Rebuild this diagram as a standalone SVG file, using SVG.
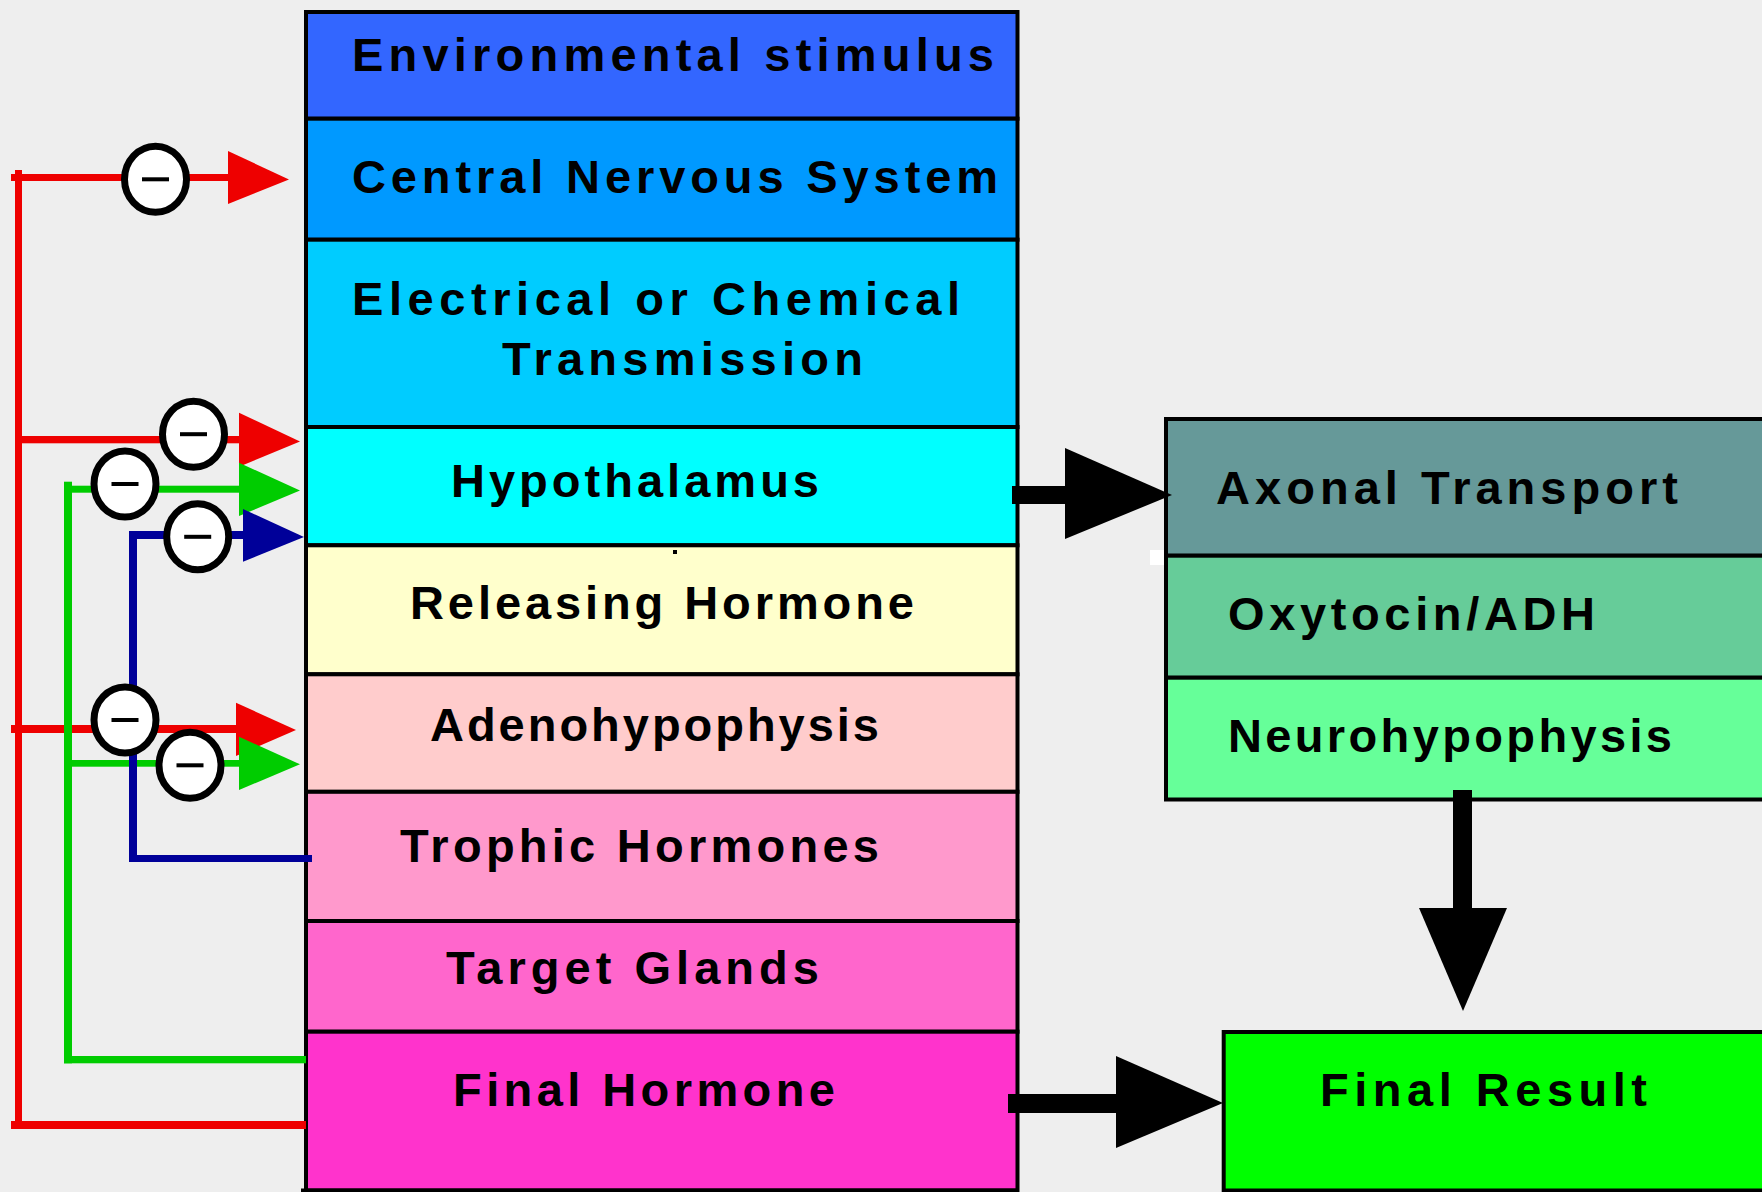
<svg xmlns="http://www.w3.org/2000/svg" width="1762" height="1192" viewBox="0 0 1762 1192">
<style>
.box{stroke:#000;stroke-width:4}
.lbl{font-family:"Liberation Sans",Arial,sans-serif;font-weight:bold;font-size:47px;fill:#000}
.r{fill:#ee0000}
.g{fill:#00cc00}
.b{fill:#000099}
.k{fill:#000}
.inh{fill:#fff;stroke:#000;stroke-width:7}
</style>
<defs>
<g id="minus-circle">
<ellipse cx="0" cy="0" rx="31" ry="33" class="inh"/>
<rect x="-13.5" y="-2" width="27" height="4" fill="#000"/>
</g>
</defs>
<rect width="1762" height="1192" fill="#eeeeee"/>

<g id="node-env"><rect class="box" x="306" y="12" width="711.5" height="106.7" fill="#3366ff"/><text class="lbl" x="352" y="71" textLength="642" lengthAdjust="spacing">Environmental stimulus</text></g>
<g id="node-cns"><rect class="box" x="306" y="118.7" width="711.5" height="121" fill="#0099ff"/><text class="lbl" x="352" y="192.7" textLength="646" lengthAdjust="spacing">Central Nervous System</text></g>
<g id="node-trans"><rect class="box" x="306" y="239.7" width="711.5" height="187.3" fill="#00ccff"/><text class="lbl" x="352" y="315" textLength="608" lengthAdjust="spacing">Electrical or Chemical</text><text class="lbl" x="502" y="375" textLength="361" lengthAdjust="spacing">Transmission</text></g>
<g id="node-hypo"><rect class="box" x="306" y="427" width="711.5" height="118.3" fill="#00ffff"/><text class="lbl" x="451" y="496.7" textLength="368" lengthAdjust="spacing">Hypothalamus</text></g>
<g id="node-rh"><rect class="box" x="306" y="545.3" width="711.5" height="129" fill="#ffffcc"/><text class="lbl" x="410" y="619.2" textLength="504" lengthAdjust="spacing">Releasing Hormone</text><rect x="673" y="550" width="4" height="4" fill="#000"/></g>
<g id="node-adeno"><rect class="box" x="306" y="674.3" width="711.5" height="117.5" fill="#ffcccc"/><text class="lbl" x="430" y="740.5" textLength="449" lengthAdjust="spacing">Adenohypophysis</text></g>
<g id="node-trophic"><rect class="box" x="306" y="791.8" width="711.5" height="129.2" fill="#ff99cc"/><text class="lbl" x="400" y="862.2" textLength="479" lengthAdjust="spacing">Trophic Hormones</text></g>
<g id="node-target"><rect class="box" x="306" y="921" width="711.5" height="110.7" fill="#ff66cc"/><text class="lbl" x="446" y="984.3" textLength="373" lengthAdjust="spacing">Target Glands</text></g>
<g id="node-final"><rect class="box" x="306" y="1031.7" width="711.5" height="158.8" fill="#ff33cc"/><rect x="301" y="1188.5" width="718" height="4" fill="#000"/><text class="lbl" x="453" y="1105.7" textLength="382" lengthAdjust="spacing">Final Hormone</text></g>

<g id="node-axonal"><rect class="box" x="1166" y="419" width="620" height="136.7" fill="#669999"/><text class="lbl" x="1216" y="504.3" textLength="462" lengthAdjust="spacing">Axonal Transport</text></g>
<g id="node-oxy"><rect class="box" x="1166" y="555.7" width="620" height="122" fill="#66cc99"/><text class="lbl" x="1228" y="630" textLength="367" lengthAdjust="spacing">Oxytocin/ADH</text></g>
<g id="node-neuro"><rect class="box" x="1166" y="677.7" width="620" height="121.8" fill="#66ff99"/><text class="lbl" x="1228" y="751.7" textLength="444" lengthAdjust="spacing">Neurohypophysis</text></g>
<rect x="1150" y="550" width="14" height="15" fill="#fff"/>
<g id="node-result"><rect class="box" x="1223.7" y="1032" width="600" height="158.5" fill="#00ff00"/><text class="lbl" x="1320" y="1105.7" textLength="327" lengthAdjust="spacing">Final Result</text></g>

<g id="connectors">
<!-- red feedback -->
<rect class="r" x="15" y="170" width="7" height="959"/>
<rect class="r" x="11" y="174" width="219" height="7"/>
<rect class="r" x="15" y="436" width="226" height="7.3"/>
<rect class="r" x="11" y="725" width="227" height="8"/>
<rect class="r" x="11" y="1121" width="295" height="8"/>
<!-- green feedback -->
<rect class="g" x="64" y="481.7" width="8" height="581.6"/>
<rect class="g" x="64" y="485.7" width="177" height="7"/>
<rect class="g" x="64" y="760" width="177" height="6.7"/>
<rect class="g" x="64" y="1056" width="242" height="7.3"/>
<!-- blue feedback -->
<rect class="b" x="129" y="531" width="8" height="331"/>
<rect class="b" x="129" y="531" width="116" height="8"/>
<rect class="b" x="129" y="855" width="183" height="7"/>
<!-- inhibition markers -->
<use href="#minus-circle" x="155.5" y="179.3"/>
<use href="#minus-circle" x="193.5" y="434.2"/>
<use href="#minus-circle" x="125" y="484"/>
<use href="#minus-circle" x="197.7" y="536.8"/>
<use href="#minus-circle" x="125" y="720"/>
<use href="#minus-circle" x="190" y="765.3"/>
<!-- arrowheads -->
<polygon class="r" points="228,151 289,179.5 228,204"/>
<polygon class="r" points="239,412.7 300,441.5 239,466.7"/>
<polygon class="g" points="239,462.7 300,490.5 239,516"/>
<polygon class="b" points="243,509 304,537 243,561.7"/>
<polygon class="r" points="236,702.7 296,730 236,756"/>
<polygon class="g" points="239,736.7 300,764.3 239,790"/>
<!-- black arrows -->
<rect class="k" x="1012" y="486" width="55" height="18"/>
<polygon class="k" points="1065,448 1172,495 1065,539"/>
<rect class="k" x="1453" y="790" width="19" height="120"/>
<polygon class="k" points="1419,908 1507,908 1463,1011"/>
<rect class="k" x="1008" y="1094" width="110" height="19"/>
<polygon class="k" points="1116,1056 1223,1103 1116,1148"/>
</g>
</svg>
